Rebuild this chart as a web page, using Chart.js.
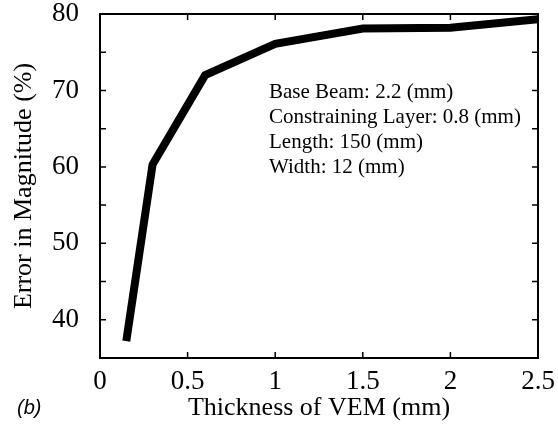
<!DOCTYPE html>
<html>
<head>
<meta charset="utf-8">
<script src="https://cdn.jsdelivr.net/npm/chart.js@4.4.1/dist/chart.umd.min.js"></script>
<style>
  html, body { margin: 0; padding: 0; background: #fff; }
  #wrap { width: 558px; height: 425px; position: relative; }
</style>
</head>
<body>
<div id="wrap"><canvas id="errorChart"></canvas></div>
<script>
// data
var thickness = [0.15, 0.3, 0.6, 1.0, 1.5, 2.0, 2.5];
var errorMagnitude = [37.2, 60.3, 72.0, 76.1, 78.1, 78.2, 79.3];
var xTickValues = [0, 0.5, 1, 1.5, 2, 2.5];
var yTickValues = [40, 45, 50, 55, 60, 65, 70, 75, 80];
var noteLines = [
  "Base Beam: 2.2 (mm)",
  "Constraining Layer: 0.8 (mm)",
  "Length: 150 (mm)",
  "Width: 12 (mm)"
];
var panelLabel = "(b)";

var serif = "'Liberation Serif', 'Times New Roman', serif";

// frame, inward ticks and the text notes
var framePlugin = {
  id: "frame",
  afterDraw: function (chart) {
    var ctx = chart.ctx;
    var a = chart.chartArea;
    var xs = chart.scales.x;
    var ys = chart.scales.y;
    ctx.save();
    ctx.strokeStyle = "#000";
    ctx.lineWidth = 2;
    ctx.strokeRect(a.left, a.top, a.right - a.left, a.bottom - a.top);

    ctx.lineWidth = 1.5;
    ctx.beginPath();
    xTickValues.forEach(function (v) {
      var px = xs.getPixelForValue(v);
      if (v <= 0 || v >= 2.5) return;
      ctx.moveTo(px, a.bottom); ctx.lineTo(px, a.bottom - 6);
      ctx.moveTo(px, a.top); ctx.lineTo(px, a.top + 6);
    });
    yTickValues.forEach(function (v) {
      var py = ys.getPixelForValue(v);
      if (v >= 80) return;
      ctx.moveTo(a.left, py); ctx.lineTo(a.left + 6, py);
      ctx.moveTo(a.right, py); ctx.lineTo(a.right - 6, py);
    });
    ctx.stroke();

    ctx.fillStyle = "#000";
    ctx.font = "21px " + serif;
    ctx.textBaseline = "middle";
    ctx.textAlign = "left";
    noteLines.forEach(function (t, i) {
      ctx.fillText(t, 269, 92 + i * 25);
    });

    ctx.font = "italic 20px 'Liberation Sans', Arial, sans-serif";
    ctx.fillText(panelLabel, 17, 408);
    ctx.restore();
  }
};

var ctx = document.getElementById("errorChart");
var errorChart = new Chart(ctx, {
  type: "line",
  data: {
    datasets: [{
      data: thickness.map(function (t, i) { return { x: t, y: errorMagnitude[i] }; }),
      borderColor: "#000",
      borderWidth: 8,
      borderJoinStyle: "miter",
      pointRadius: 0,
      tension: 0,
      fill: false
    }]
  },
  options: {
    responsive: true,
    maintainAspectRatio: false,
    animation: false,
    layout: { padding: { top: 14, right: 20, left: 0, bottom: 0 } },
    plugins: { legend: { display: false }, tooltip: { enabled: false } },
    scales: {
      x: {
        type: "linear",
        min: 0,
        max: 2.5,
        afterBuildTicks: function (s) { s.ticks = xTickValues.map(function (v) { return { value: v }; }); },
        afterFit: function (s) {
          s.height = 67;
          s.paddingLeft = 0; s.paddingRight = 0;
        },
        grid: { display: false, drawTicks: false },
        border: { display: false },
        ticks: {
          color: "#000",
          padding: 8,
          font: { family: serif, size: 27 },
          maxRotation: 0,
          callback: function (v) { return String(v); }
        },
        title: {
          display: true,
          text: "Thickness of VEM (mm)",
          color: "#000",
          font: { family: serif, size: 26 },
          padding: { top: 0, bottom: 1 }
        }
      },
      y: {
        type: "linear",
        min: 35,
        max: 80,
        afterBuildTicks: function (s) { s.ticks = yTickValues.map(function (v) { return { value: v }; }); },
        afterFit: function (s) {
          s.width = 100;
          s.paddingTop = 0; s.paddingBottom = 0;
        },
        grid: { display: false, drawTicks: false },
        border: { display: false },
        ticks: {
          color: "#000",
          padding: 21,
          font: { family: serif, size: 27 },
          callback: function (v) { return v % 10 === 0 ? String(v) : ""; }
        },
        title: {
          display: true,
          text: "Error in Magnitude (%)",
          color: "#000",
          font: { family: serif, size: 26 },
          padding: { top: 9, bottom: 0 }
        }
      }
    }
  },
  plugins: [framePlugin]
});
</script>
</body>
</html>
